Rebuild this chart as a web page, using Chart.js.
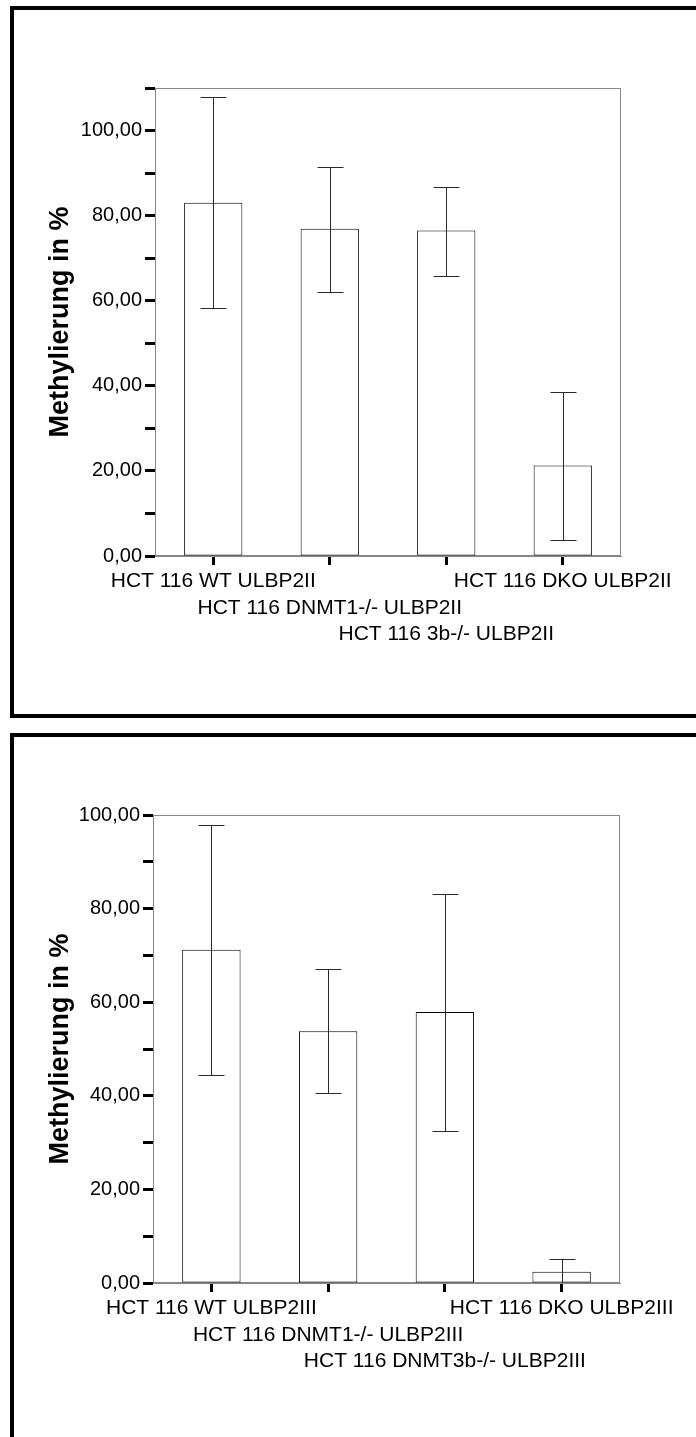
<!DOCTYPE html>
<html>
<head>
<meta charset="utf-8">
<script src="https://cdn.jsdelivr.net/npm/chart.js@4/dist/chart.umd.min.js"></script>
<style>
  html, body { margin: 0; padding: 0; background: #fff; }
  body { width: 696px; height: 1437px; position: relative; overflow: hidden; }
  .frame { position: absolute; border: 0 solid #000; box-sizing: border-box; }
  #f1 { left: 10px; top: 6px; width: 720px; height: 712px; border-left-width: 4px; border-top-width: 4px; border-bottom-width: 4px; }
  #f2 { left: 10px; top: 733px; width: 720px; height: 760px; border-left-width: 4px; border-top-width: 4px; }
  canvas { position: absolute; left: 0; }
  #c1 { top: 0; }
  #c2 { top: 718px; }
</style>
</head>
<body>
<div class="frame" id="f1"></div>
<div class="frame" id="f2"></div>
<canvas id="c1" width="696" height="718"></canvas>
<canvas id="c2" width="696" height="719"></canvas>
<script>
// ---------- data ----------
const categories1 = ['HCT 116 WT ULBP2II', 'HCT 116 DNMT1-/- ULBP2II', 'HCT 116 3b-/- ULBP2II', 'HCT 116 DKO ULBP2II'];
const means1 = [83.0, 76.9, 76.5, 21.3];
const upper1 = [107.9, 91.5, 86.8, 38.6];
const lower1 = [58.4, 62.0, 65.8, 3.8];

const categories2 = ['HCT 116 WT ULBP2III', 'HCT 116 DNMT1-/- ULBP2III', 'HCT 116 DNMT3b-/- ULBP2III', 'HCT 116 DKO ULBP2III'];
const means2 = [71.2, 53.8, 57.9, 2.4];
const upper2 = [97.9, 67.1, 83.1, 5.1];
const lower2 = [44.4, 40.6, 32.5, -0.4];

const labelRows = [0, 1, 2, 0]; // which text row each category label sits on
const yTitle = 'Methylierung in %';

// ---------- helpers ----------
const FONT = '"Liberation Sans", Arial, Helvetica, sans-serif';

function stagger(cats) {
  return cats.map((c, i) => {
    const arr = [];
    for (let r = 0; r < labelRows[i]; r++) arr.push('');
    arr.push(c);
    return arr;
  });
}

const errorBars = {
  id: 'errorBars',
  afterDatasetsDraw(chart, args, opts) {
    const { ctx, chartArea } = chart;
    const y = chart.scales.y;
    const meta = chart.getDatasetMeta(0);
    ctx.save();
    ctx.beginPath();
    ctx.rect(chartArea.left, chartArea.top, chartArea.right - chartArea.left, chartArea.bottom - chartArea.top);
    ctx.clip();
    ctx.strokeStyle = '#2a2a2a';
    ctx.lineWidth = 1;
    meta.data.forEach((bar, i) => {
      const x = Math.round(bar.x) + 0.5;
      const yh = Math.round(y.getPixelForValue(opts.upper[i])) + 0.5;
      const yl = Math.round(y.getPixelForValue(opts.lower[i])) + 0.5;
      const cw = 13;
      ctx.beginPath();
      ctx.moveTo(x, yh); ctx.lineTo(x, yl);
      ctx.moveTo(x - cw, yh); ctx.lineTo(x + cw, yh);
      ctx.moveTo(x - cw, yl); ctx.lineTo(x + cw, yl);
      ctx.stroke();
    });
    ctx.restore();
  }
};

const plotBox = {
  id: 'plotBox',
  beforeDatasetsDraw(chart) {
    const { ctx, chartArea: a } = chart;
    ctx.save();
    ctx.strokeStyle = '#888';
    ctx.lineWidth = 1;
    ctx.strokeRect(Math.round(a.left) + 0.5, Math.round(a.top) + 0.5, Math.round(a.right - a.left) - 1, Math.round(a.bottom - a.top) - 1);
    ctx.restore();
  }
};

function makeChart(id, cats, means, upper, lower, yMax, geom) {
  return new Chart(document.getElementById(id), {
    type: 'bar',
    data: {
      labels: stagger(cats),
      datasets: [{
        data: means,
        backgroundColor: '#ffffff',
        borderColor: '#000000',
        borderWidth: 1,
        borderSkipped: false,
        barPercentage: 0.5,
        categoryPercentage: 1.0
      }]
    },
    plugins: [plotBox, errorBars],
    options: {
      responsive: false,
      animation: false,
      devicePixelRatio: 1,
      layout: { padding: { top: geom.top, right: geom.right, bottom: geom.bottom, left: 0 } },
      plugins: {
        legend: { display: false },
        tooltip: { enabled: false },
        errorBars: { upper: upper, lower: lower }
      },
      scales: {
        x: {
          grid: { display: true, offset: false, drawOnChartArea: false, drawTicks: true, tickLength: 9, tickWidth: 3, tickColor: '#000' },
          border: { display: true, color: '#888', width: 1 },
          ticks: {
            autoSkip: false, maxRotation: 0, minRotation: 0, padding: 3, color: '#000',
            font: { family: FONT, size: 21, lineHeight: 1.27 }
          },
          afterFit(s) { s.height = 100; s.paddingLeft = 0; s.paddingRight = 0; }
        },
        y: {
          min: 0, max: yMax,
          grid: { display: true, drawOnChartArea: false, drawTicks: true, tickLength: 10, tickWidth: 3, tickColor: '#000' },
          border: { display: true, color: '#888', width: 1 },
          ticks: {
            stepSize: 10, padding: 3, color: '#000',
            font: { family: FONT, size: 20 },
            callback: v => (v % 20 === 0 ? v.toFixed(2).replace('.', ',') : '')
          },
          title: {
            display: true, text: yTitle, color: '#000',
            font: { family: FONT, size: 27, weight: 'bold', lineHeight: 1.2 },
            padding: { top: 44, bottom: 0 }
          },
          afterFit(s) { s.width = geom.left; s.paddingTop = 0; s.paddingBottom = 0; }
        }
      }
    }
  });
}

makeChart('c1', categories1, means1, upper1, lower1, 110, { top: 88, right: 75, bottom: 62, left: 155 });
makeChart('c2', categories2, means2, upper2, lower2, 100, { top: 97, right: 76, bottom: 54, left: 153 });
</script>
</body>
</html>
